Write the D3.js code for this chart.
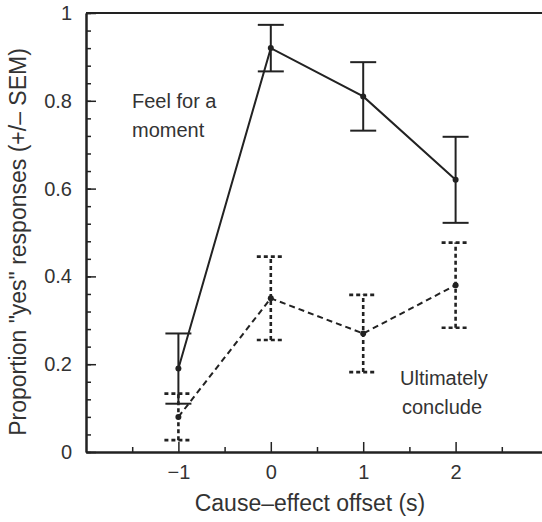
<!DOCTYPE html>
<html>
<head>
<meta charset="utf-8">
<script src="https://cdn.jsdelivr.net/npm/d3@7"></script>
<style>
  body { margin: 0; background: #fff; }
  svg text { font-family: "Liberation Sans", Arial, sans-serif; fill: #333; }
</style>
</head>
<body>
<div id="viz-container"></div>
<script>
// Data
let offsets = [-1, 0, 1, 2];
let feelMean = [0.19, 0.92, 0.81, 0.62];
let feelSem = [0.08, 0.053, 0.078, 0.098];
let concludeMean = [0.08, 0.35, 0.27, 0.38];
let concludeSem = [0.053, 0.095, 0.088, 0.097];

let xMajor = [-1, 0, 1, 2];
let xMinor = [-1.5, -0.5, 0.5, 1.5, 2.5];
let yMajor = [0, 0.2, 0.4, 0.6, 0.8, 1];
let yMinor = d3.range(0, 1.001, 0.04);

let width = 542, height = 522;

let svg = d3.select('#viz-container').append('svg')
    .attr('width', width)
    .attr('height', height);

let x = d3.scaleLinear().domain([-2, 3]).range([86, 548]);
let y = d3.scaleLinear().domain([0, 1]).range([452, 13]);

let axisColor = '#222';

// y axis (ticks point inward)
let yMinorAxis = d3.axisLeft(y).tickValues(yMinor).tickSize(-5).tickSizeOuter(0).tickFormat('');
let yMajorAxis = d3.axisLeft(y).tickValues(yMajor).tickSize(-10).tickSizeOuter(0)
    .tickPadding(14).tickFormat(d => d === 0 || d === 1 ? d : d3.format('.1f')(d));

svg.append('g').attr('transform', 'translate(' + x.range()[0] + ',0)').call(yMinorAxis);
svg.append('g').attr('class', 'y-major').attr('transform', 'translate(' + x.range()[0] + ',0)').call(yMajorAxis);

// x axis
let xMinorAxis = d3.axisBottom(x).tickValues(xMinor).tickSize(-5).tickSizeOuter(0).tickFormat('');
let xMajorAxis = d3.axisBottom(x).tickValues(xMajor).tickSize(-10).tickSizeOuter(0)
    .tickPadding(13).tickFormat(d => d < 0 ? '\u2212' + Math.abs(d) : d);

svg.append('g').attr('transform', 'translate(0,' + y(0) + ')').call(xMinorAxis);
svg.append('g').attr('class', 'x-major').attr('transform', 'translate(0,' + y(0) + ')').call(xMajorAxis);

svg.selectAll('.domain, .tick line').attr('stroke', axisColor).attr('stroke-width', 2);
svg.selectAll('.tick line').attr('stroke-width', 1.5);
svg.selectAll('.tick text').style('font-size', '20px').attr('fill', '#333');

// top border
svg.append('line')
    .attr('x1', x(-2)).attr('x2', width)
    .attr('y1', y(1)).attr('y2', y(1))
    .attr('stroke', axisColor).attr('stroke-width', 2);

// axis titles
svg.append('text')
    .attr('x', 310).attr('y', 511)
    .attr('text-anchor', 'middle')
    .style('font-size', '23px')
    .text('Cause\u2013effect offset (s)');

svg.append('text')
    .attr('transform', 'translate(26,242) rotate(-90)')
    .attr('text-anchor', 'middle')
    .style('font-size', '23px')
    .text('Proportion "yes" responses (+/\u2013 SEM)');

function drawSeries(means, sems, dashLine, dashBar, cap) {
    let pts = offsets.map((o, i) => ({ x: o, m: means[i], s: sems[i] }));
    let g = svg.append('g');
    let line = d3.line().x(d => x(d.x)).y(d => y(d.m));

    g.append('path')
        .datum(pts)
        .attr('d', line)
        .attr('fill', 'none')
        .attr('stroke', '#222')
        .attr('stroke-width', 2)
        .attr('stroke-dasharray', dashLine);

    let bars = g.selectAll('g.bar').data(pts).enter().append('g').attr('class', 'bar');
    bars.append('line')
        .attr('x1', d => x(d.x)).attr('x2', d => x(d.x))
        .attr('y1', d => y(d.m - d.s)).attr('y2', d => y(d.m + d.s));
    bars.append('line')
        .attr('x1', d => x(d.x) - cap).attr('x2', d => x(d.x) + cap)
        .attr('y1', d => y(d.m + d.s)).attr('y2', d => y(d.m + d.s));
    bars.append('line')
        .attr('x1', d => x(d.x) - cap).attr('x2', d => x(d.x) + cap)
        .attr('y1', d => y(d.m - d.s)).attr('y2', d => y(d.m - d.s));
    bars.selectAll('line')
        .attr('stroke', '#222')
        .attr('stroke-width', dashBar ? 2.6 : 2)
        .attr('stroke-dasharray', dashBar);

    g.selectAll('circle').data(pts).enter().append('circle')
        .attr('cx', d => x(d.x)).attr('cy', d => y(d.m))
        .attr('r', 3).attr('fill', '#222');
}

drawSeries(feelMean, feelSem, null, null, 13);
drawSeries(concludeMean, concludeSem, '6,4', '4,3', 14);

// annotations
let notes = [
    { lines: ['Feel for a', 'moment'], x: 132, y: 108 },
    { lines: ['Ultimately', 'conclude'], x: 400, y: 385 }
];
notes.forEach(n => {
    n.lines.forEach((t, i) => {
        svg.append('text')
            .attr('x', n.x + (i === 1 && n.x > 300 ? 2 : 0))
            .attr('y', n.y + i * 29)
            .style('font-size', '20px')
            .text(t);
    });
});
</script>
</body>
</html>
